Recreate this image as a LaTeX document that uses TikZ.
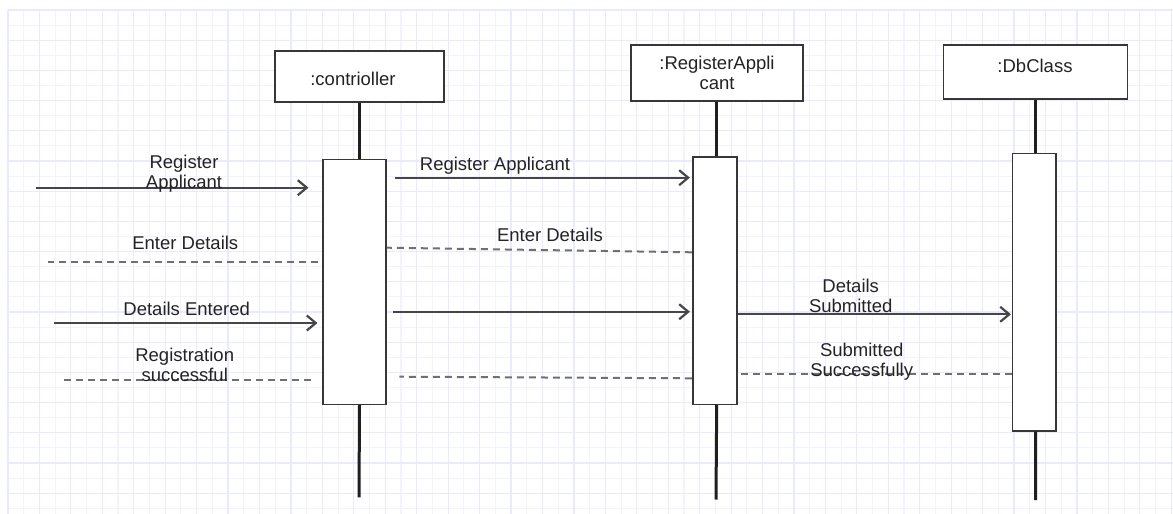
\documentclass[tikz,border=0pt]{standalone}
\usepackage{fontspec}
\setmainfont{Liberation Sans}
\usetikzlibrary{arrows.meta}
\definecolor{gridminor}{RGB}{243,243,255}
\definecolor{gridmajor}{RGB}{233,233,255}
\definecolor{linegray}{RGB}{70,70,70}
\definecolor{dashgray}{RGB}{112,112,112}
\definecolor{boxedge}{RGB}{55,55,55}
\definecolor{inkgray}{RGB}{35,35,35}

\begin{document}
\begin{tikzpicture}[x=1pt,y=-1pt,
  every node/.style={font=\fontsize{18.5}{20}\selectfont, text=inkgray},
  objbox/.style={draw=boxedge, line width=1.8pt, fill=white, inner sep=0pt},
  actbox/.style={draw=boxedge, line width=1.6pt, fill=white, inner sep=0pt},
  lifeline/.style={draw=black!88, line width=3pt},
  msg/.style={draw=linegray, line width=2.2pt,
    -{Straight Barb[length=9pt,width=15pt,line width=2.2pt]}},
  reply/.style={draw=dashgray, line width=2pt, dash pattern=on 7pt off 5pt},
  lbl/.style={anchor=base, align=center, inner sep=0pt}
]
% page and ruled background
\fill[white] (0,0) rectangle (1173,514);
\useasboundingbox (0,0) rectangle (1173,514);
\foreach \i in {1,3,...,73}{
  \pgfmathsetmacro\gx{8+\i*15.72}
  \draw[gridminor, line width=1.1pt] (\gx,10) -- (\gx,514);
}
\foreach \j in {1,3,...,33}{
  \pgfmathsetmacro\gy{10+\j*15.1}
  \draw[gridminor, line width=1.1pt] (8,\gy) -- (1173,\gy);
}
\foreach \i in {0,2,...,74}{
  \pgfmathsetmacro\gx{8+\i*15.72}
  \draw[gridmajor, line width=1.2pt] (\gx,10) -- (\gx,514);
}
\foreach \j in {0,2,...,33}{
  \pgfmathsetmacro\gy{10+\j*15.1}
  \draw[gridmajor, line width=1.2pt] (8,\gy) -- (1173,\gy);
}

% object heads
\node[objbox, minimum width=169pt, minimum height=51pt] (ctl) at (359.5,76.6) {};
\node[objbox, minimum width=172pt, minimum height=56pt] (ra) at (716.7,73) {};
\node[objbox, minimum width=184pt, minimum height=54pt] (db) at (1035.5,72.2) {};
\node[lbl] (ctlname) at (353,85) {:contrioller};
\node[lbl] (raname) at (717,89.5) {:RegisterAppli\\cant};
\node[lbl] (dbname) at (1035,72.3) {:DbClass};

% activation bars
\node[actbox, minimum width=63pt, minimum height=245pt] (ctlact) at (354.5,281.8) {};
\node[actbox, minimum width=44pt, minimum height=247.3pt] (raact) at (714.7,280.65) {};
\node[actbox, minimum width=43.7pt, minimum height=277.4pt] (dbact) at (1034.2,292) {};

% lifelines
\coordinate (ctlend) at (359,497.3);
\coordinate (raend) at (716,499.5);
\coordinate (dbend) at (1035.7,500);
\draw[lifeline] (ctl.south) -- (ctl.south |- ctlact.north);
\draw[lifeline] (ctl.south |- ctlact.south) -- (ctlend);
\draw[lifeline] (ra.south) -- (ra.south |- raact.north);
\draw[lifeline] (ra.south |- raact.south) -- (raend);
\draw[lifeline] (db.south) -- (db.south |- dbact.north);
\draw[lifeline] (db.south |- dbact.south) -- (dbend);

% incoming and outgoing ends on the left
\coordinate (in1) at (35.7,187.7);
\coordinate (out1) at (48.3,262.3);
\coordinate (in2) at (54.3,323);
\coordinate (out2) at (61,380);

% messages (two-line labels are placed by the baseline of their last line)
\draw[msg] (in1) -- ([xshift=-13.7pt]ctlact.west |- in1);
\node[lbl] (m1) at (184,188) {Register\\Applicant};

\draw[msg] ([xshift=8pt]ctlact.east |- 0,177.7) -- ([xshift=-2pt]raact.west |- 0,177.7);
\node[lbl] (m2) at (495,170) {Register Applicant};

\draw[reply] ([xshift=-4.7pt]ctlact.west |- out1) -- (out1);
\node[lbl] (m3) at (185.3,249.3) {Enter Details};

\draw[reply] (raact.west |- 0,252.3) -- (ctlact.east |- 0,247.7);
\node[lbl] (m4) at (550,241.7) {Enter Details};

\draw[msg] (in2) -- ([xshift=-4.7pt]ctlact.west |- in2);
\node[lbl] (m5) at (186.7,315) {Details Entered};

\draw[msg] ([xshift=6pt]ctlact.east |- 0,311.7) -- ([xshift=-2pt]raact.west |- 0,311.7);

\draw[msg] (raact.east |- 0,314.3) -- ([xshift=-0.6pt]dbact.west |- 0,314.3);
\node[lbl] (m7) at (850.7,312.3) {Details\\Submitted};

\draw[reply] ([xshift=-11.3pt]ctlact.west |- out2) -- (out2);
\node[lbl] (m8) at (184.7,381.7) {Registration\\successful};

\draw[reply] (raact.west |- 0,378.3) -- ([xshift=12.5pt]ctlact.east |- 0,376.7);

\draw[reply] (dbact.west |- 0,374.3) -- ([xshift=3.3pt]raact.east |- 0,374.3);
\node[lbl] (m10) at (861.7,376.7) {Submitted\\Successfully};
\end{tikzpicture}
\end{document}
